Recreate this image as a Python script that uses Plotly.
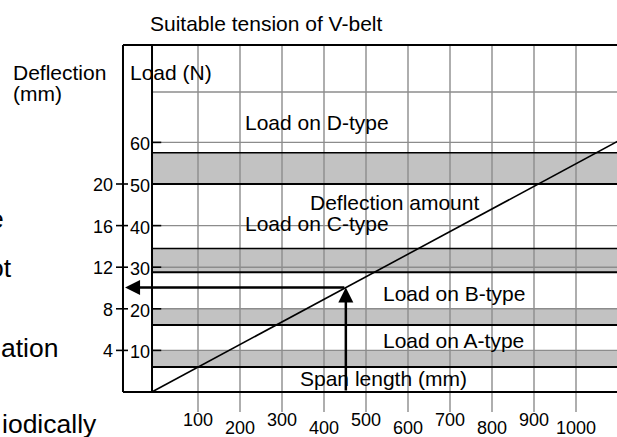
import plotly.graph_objects as go

# ---------------- data ----------------
SPAN_TICKS = [100, 200, 300, 400, 500, 600, 700, 800, 900, 1000]   # span length (mm)
LOAD_TICKS = [10, 20, 30, 40, 50, 60]                              # load (N)
DEFLECTION_TICKS = [4, 8, 12, 16, 20]                              # deflection (mm)
N_PER_MM_DEFLECTION = 2.5                                          # 4 mm <-> 10 N

BAND_NAMES = ["A", "B", "C", "D"]
BAND_LOW = [6.0, 16.1, 28.8, 50.0]        # load range of suitable tension (N)
BAND_HIGH = [10.0, 20.0, 34.5, 57.5]
BAND_LABELS = ["Load on A-type", "Load on B-type", "Load on C-type", "Load on D-type"]

DIAG_SPAN = [-10, 1100]                   # deflection amount line
DIAG_LOAD = [0, 60.3]

ARROW_SPAN = 452                          # example reading
ARROW_LOAD = 25.1

HEADER_LOAD = 72.1                        # header row line
TOP_LOAD = 83.4                           # top of frame

# ---------------- geometry / style ----------------
W, H = 617, 437
ML, MR, MT, MB = 116, 0, 40, 25
SPAN0_PX, PX_PER_SPAN = 156, 0.42
LOAD0_PX, PX_PER_N = 392, 4.16

x_range = [(ML - SPAN0_PX) / PX_PER_SPAN, (W - MR - SPAN0_PX) / PX_PER_SPAN]
y_range = [(LOAD0_PX - (H - MB)) / PX_PER_N, (LOAD0_PX - MT) / PX_PER_N]

OUTER_X = -78.6     # deflection axis line
INNER_X = -9.5      # load axis line
X_END = x_range[1] + 20

GRID = "#8c8c8c"
BAND_FILL = "#c2c2c2"
FONT = "Liberation Sans, Arial, Helvetica, sans-serif"


def px_paper(px):
    return (px - ML) / (W - ML - MR)


def py_paper(py):
    return (H - MB - py) / (H - MT - MB)


def line(x0, y0, x1, y1, color="black", width=2.0):
    return dict(type="line", xref="x", yref="y", x0=x0, y0=y0, x1=x1, y1=y1,
                line=dict(color=color, width=width), layer="below")


shapes = []
# bands
for lo, hi in zip(BAND_LOW, BAND_HIGH):
    shapes.append(dict(type="rect", xref="x", yref="y", x0=INNER_X, x1=X_END,
                       y0=lo, y1=hi, fillcolor=BAND_FILL, line=dict(width=0),
                       layer="below"))
# vertical grid
for s in SPAN_TICKS:
    shapes.append(line(s, y_range[0], s, TOP_LOAD, GRID, 1.4))
# horizontal grid
for v in LOAD_TICKS + [HEADER_LOAD]:
    shapes.append(line(INNER_X, v, X_END, v, GRID, 1.4))
# band edges
for name, lo, hi in zip(BAND_NAMES, BAND_LOW, BAND_HIGH):
    shapes.append(line(INNER_X, lo, X_END, lo, "black", 2.0))
    if name in ("C", "D"):
        shapes.append(line(INNER_X, hi, X_END, hi, "black", 1.6))
# load ticks
for v in LOAD_TICKS:
    shapes.append(line(INNER_X, v, INNER_X + 22, v, "black", 1.6))
# deflection ticks (crossing the outer axis)
for d in DEFLECTION_TICKS:
    shapes.append(line(x_range[0], d * N_PER_MM_DEFLECTION, OUTER_X + 12,
                       d * N_PER_MM_DEFLECTION, "black", 1.6))
# frame
shapes.append(line(OUTER_X, 0, OUTER_X, TOP_LOAD, "black", 2.0))
shapes.append(line(INNER_X, 0, INNER_X, TOP_LOAD, "black", 2.0))
shapes.append(line(OUTER_X, TOP_LOAD, X_END, TOP_LOAD, "black", 2.0))
shapes.append(line(OUTER_X, 0, X_END, 0, "black", 2.2))

fig = go.Figure()
fig.add_trace(go.Scatter(x=DIAG_SPAN, y=DIAG_LOAD, mode="lines",
                         line=dict(color="black", width=1.6),
                         hoverinfo="skip", showlegend=False))

ann = []


def text(t, px, py, size=21, xanchor="left"):
    ann.append(dict(text=t, xref="paper", yref="paper", x=px_paper(px), y=py_paper(py),
                    xanchor=xanchor, yanchor="middle", showarrow=False,
                    font=dict(family=FONT, size=size, color="black")))


# titles and labels
text("Suitable tension of V-belt", 265.5, 23.5, xanchor="center")
text("Deflection", 11, 72.5)
text("(mm)", 11, 93.5)
text("Load (N)", 128, 72.5)
text(BAND_LABELS[3], 243, 122.5)
text("Deflection amount", 308, 202.5)
text(BAND_LABELS[2], 243, 223.5)
text(BAND_LABELS[1], 381, 293.5)
text(BAND_LABELS[0], 381, 340.5)
text("Span length (mm)", 298, 378.5)

# fragments of surrounding page text
text("e", 6, 219, size=26.5, xanchor="right")
text("ot", 14, 268, size=26.5, xanchor="right")
text("ation", 60, 348, size=26.5, xanchor="right")
text("iodically", 99, 424, size=26.5, xanchor="right")

# bottom tick labels (staggered)
for i, s in enumerate(SPAN_TICKS):
    ann.append(dict(text=str(s), xref="x", yref="paper", x=s,
                    y=py_paper(420 if i % 2 == 0 else 428), xanchor="center",
                    yanchor="middle", showarrow=False,
                    font=dict(family=FONT, size=18, color="black")))
# load tick labels
for v in LOAD_TICKS:
    ann.append(dict(text=str(v), xref="paper", yref="y", x=px_paper(152), y=v,
                    xanchor="right", yanchor="middle", yshift=-2, showarrow=False,
                    font=dict(family=FONT, size=18, color="black")))
# deflection tick labels
for d in DEFLECTION_TICKS:
    ann.append(dict(text=str(d), xref="paper", yref="y", x=px_paper(115),
                    y=d * N_PER_MM_DEFLECTION, xanchor="right", yanchor="middle",
                    yshift=-1, showarrow=False,
                    font=dict(family=FONT, size=18, color="black")))

# arrows
ann.append(dict(text="", x=ARROW_SPAN, y=ARROW_LOAD, xref="x", yref="y",
                ax=ARROW_SPAN, ay=0, axref="x", ayref="y", showarrow=True,
                arrowhead=2, arrowsize=1.2, arrowwidth=2.5, arrowcolor="black",
                standoff=0))
ann.append(dict(text="", x=OUTER_X + 5, y=ARROW_LOAD, xref="x", yref="y",
                ax=ARROW_SPAN, ay=ARROW_LOAD, axref="x", ayref="y", showarrow=True,
                arrowhead=2, arrowsize=1.2, arrowwidth=2.5, arrowcolor="black",
                standoff=0))

fig.update_layout(
    width=W, height=H,
    margin=dict(l=ML, r=MR, t=MT, b=MB, pad=0),
    paper_bgcolor="white", plot_bgcolor="white",
    xaxis=dict(range=x_range, visible=False, fixedrange=True),
    yaxis=dict(range=y_range, visible=False, fixedrange=True),
    shapes=shapes, annotations=ann, showlegend=False,
    font=dict(family=FONT, color="black"),
)

fig.write_html(
    "out.html",
    config={"displayModeBar": False, "staticPlot": True},
    post_script="document.body.style.margin='0px';document.body.style.overflow='hidden';",
)
